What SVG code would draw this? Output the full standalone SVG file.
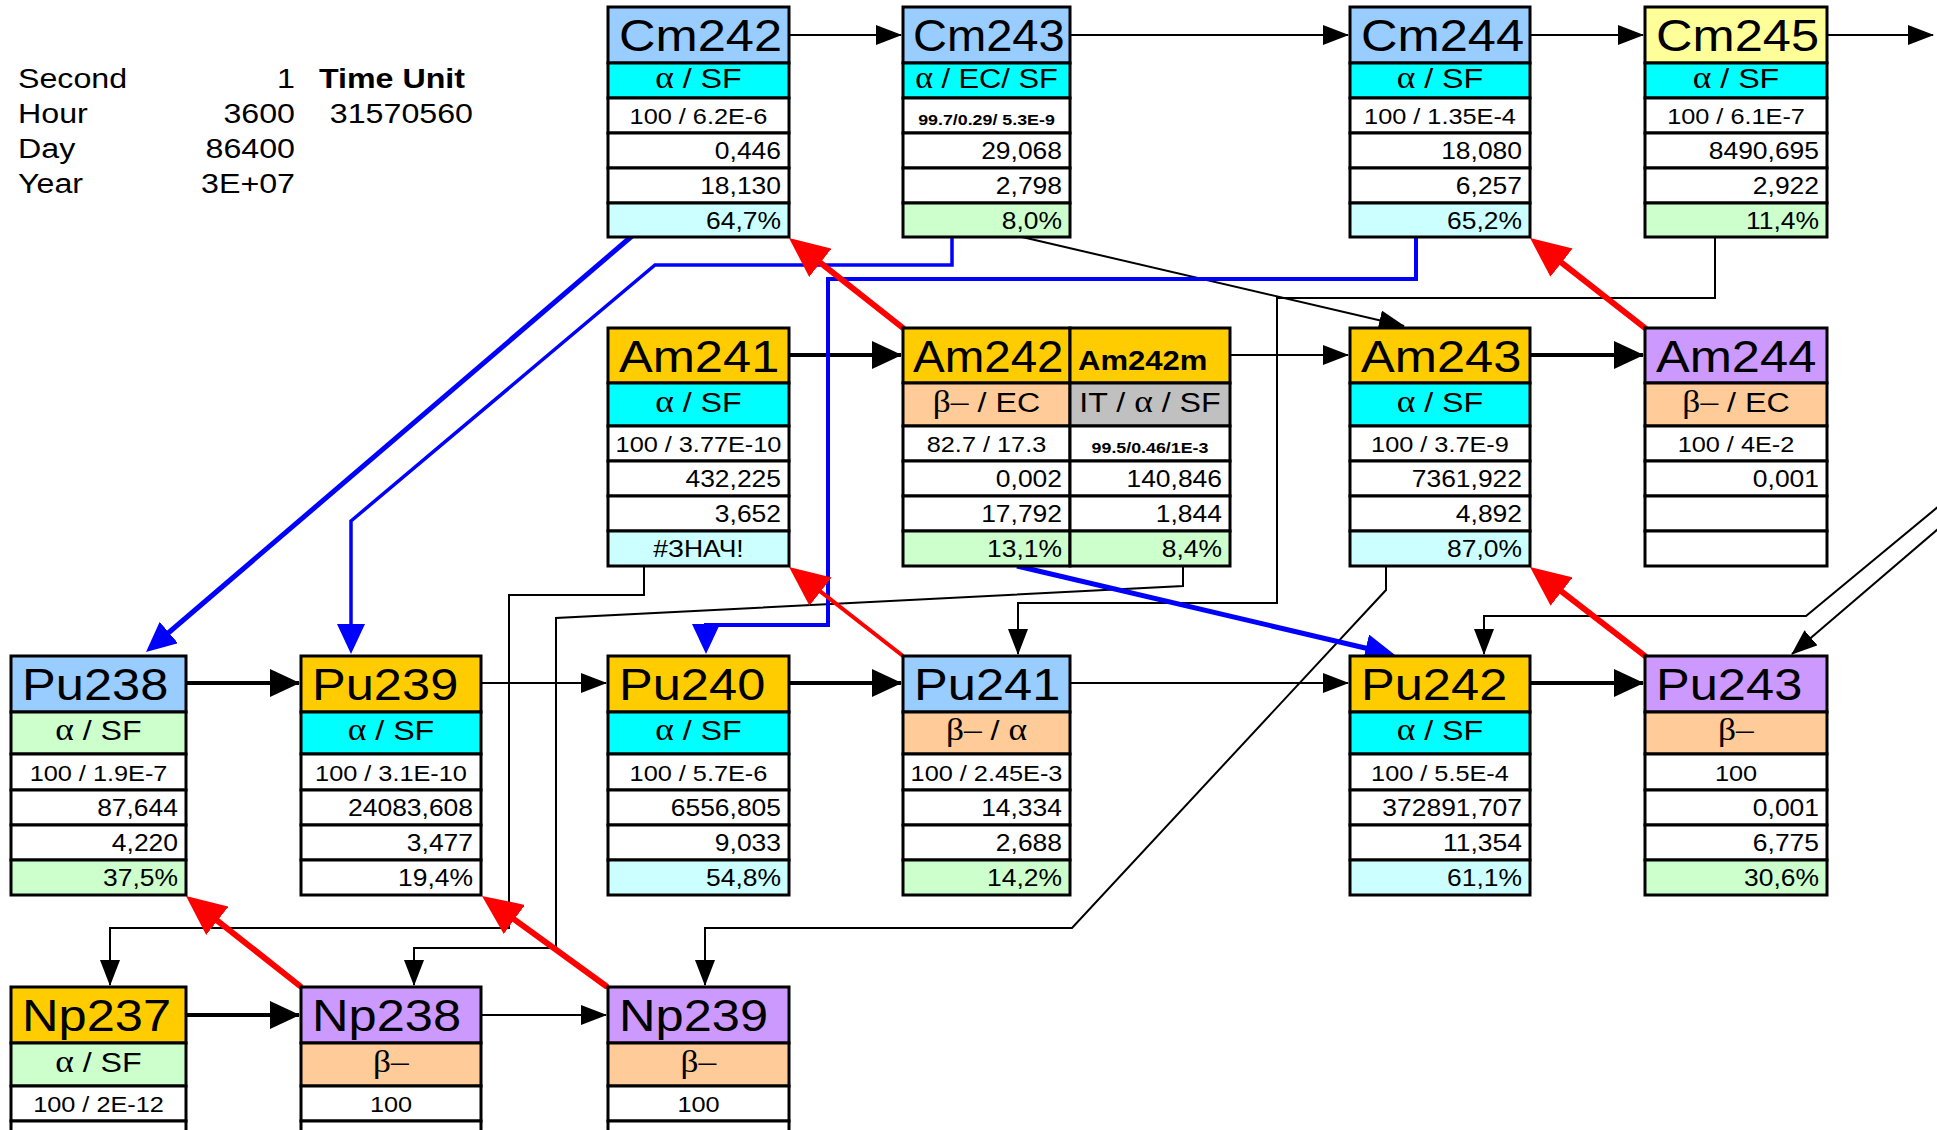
<svg xmlns="http://www.w3.org/2000/svg" width="1937" height="1130" viewBox="0 0 1937 1130">
<defs>
<style>
text{font-family:"Liberation Sans",Arial,Helvetica,sans-serif;fill:#000;transform-box:fill-box;transform:scaleX(1.15)}
.g{font-family:"Liberation Serif","Times New Roman",serif;font-size:1.1em}
.hd{font-size:44px;transform-origin:0% 50%}
.am{font-size:27px;font-weight:bold;transform-origin:0% 50%}
.dc{font-size:28px;text-anchor:middle;transform-origin:50% 50%}
.rt{font-size:22px;text-anchor:middle;transform-origin:50% 50%}
.v{font-size:23px;text-anchor:end;transform-origin:100% 50%}
.vc{font-size:23px;text-anchor:middle;transform-origin:50% 50%}
.sm{font-size:15.5px;font-weight:bold;text-anchor:middle;transform-origin:50% 50%}
.tl{font-size:28px;transform-origin:0% 50%}
.tr{font-size:28px;text-anchor:end;transform-origin:100% 50%}
.tb{font-size:28px;font-weight:bold;transform-origin:0% 50%}
rect{stroke:#000;stroke-width:3}
rect.bg{stroke:none;fill:#fff}
.bl{fill:#99CCFF}.go{fill:#FFCC00}.lv{fill:#CC99FF}.ye{fill:#FFFF99}
.cy{fill:#00FFFF}.lc{fill:#CCFFFF}.lg{fill:#CCFFCC}.pe{fill:#FFCC99}.gr{fill:#C0C0C0}.w{fill:#FFFFFF}
.k{fill:none;stroke:#000;stroke-width:2}
.kt{fill:none;stroke:#000;stroke-width:4}
.r{fill:none;stroke:#f00;stroke-width:6;stroke-linecap:round}
.r4{fill:none;stroke:#f00;stroke-width:4;stroke-linecap:round}
.b{fill:none;stroke:#00f}
</style>
<marker id="mk" markerUnits="userSpaceOnUse" markerWidth="26" markerHeight="20" refX="25" refY="10" orient="auto"><path d="M0,0L26,10L0,20z" fill="#000"/></marker>
<marker id="mkT" markerUnits="userSpaceOnUse" markerWidth="30" markerHeight="28" refX="29" refY="14" orient="auto"><path d="M0,0L30,14L0,28z" fill="#000"/></marker>
<marker id="mr" markerUnits="userSpaceOnUse" markerWidth="40" markerHeight="36" refX="28" refY="18" orient="auto"><path d="M0,0L40,18L0,36z" fill="#f00"/></marker>
<marker id="mb" markerUnits="userSpaceOnUse" markerWidth="30" markerHeight="28" refX="20" refY="14" orient="auto"><path d="M0,0L30,14L0,28z" fill="#00f"/></marker>
</defs>
<rect class="bg" x="0" y="0" width="1937" height="1130"/>

<g id="timetable">
<text class="tl" x="18" y="88">Second</text>
<text class="tl" x="18" y="123">Hour</text>
<text class="tl" x="18" y="158">Day</text>
<text class="tl" x="18" y="193">Year</text>
<text class="tr" x="295" y="88">1</text>
<text class="tr" x="295" y="123">3600</text>
<text class="tr" x="295" y="158">86400</text>
<text class="tr" x="295" y="193">3E+07</text>
<text class="tb" x="319" y="88">Time Unit</text>
<text class="tr" x="473" y="123">31570560</text>
</g>

<g id="connectors">
<path class="k" d="M789,35H901" marker-end="url(#mk)"/>
<path class="k" d="M1070,35H1348" marker-end="url(#mk)"/>
<path class="k" d="M1530,35H1643" marker-end="url(#mk)"/>
<path class="k" d="M1827,35H1933" marker-end="url(#mk)"/>
<path class="kt" d="M789,355H901" marker-end="url(#mkT)"/>
<path class="k" d="M1230,355H1348" marker-end="url(#mk)"/>
<path class="kt" d="M1530,355H1643" marker-end="url(#mkT)"/>
<path class="kt" d="M186,683H299" marker-end="url(#mkT)"/>
<path class="k" d="M481,683H606" marker-end="url(#mk)"/>
<path class="kt" d="M789,683H901" marker-end="url(#mkT)"/>
<path class="k" d="M1070,683H1348" marker-end="url(#mk)"/>
<path class="kt" d="M1530,683H1643" marker-end="url(#mkT)"/>
<path class="kt" d="M186,1015H299" marker-end="url(#mkT)"/>
<path class="k" d="M481,1015H606" marker-end="url(#mk)"/>
<path class="k" d="M1022,237L1404,326" marker-end="url(#mk)"/>
<path class="k" d="M1715,237V298H1277V603H1018V654" marker-end="url(#mk)"/>
<path class="k" d="M1183,566V586L556,618V948H414V985" marker-end="url(#mk)"/>
<path class="k" d="M644,566V595H509V928H110V985" marker-end="url(#mk)"/>
<path class="k" d="M1386,566V590L1072,928H705V985" marker-end="url(#mk)"/>
<path class="k" d="M1945,501L1806,616H1484V654" marker-end="url(#mk)"/>
<path class="k" d="M1945,523L1792,654" marker-end="url(#mk)"/>
<path class="b" stroke-width="5" d="M632,236L153.6,645.5" marker-end="url(#mb)"/>
<path class="b" stroke-width="3.5" d="M952,237V265H655L351,521V644" marker-end="url(#mb)"/>
<path class="b" stroke-width="4" d="M1416,237V279H828V625H706V644" marker-end="url(#mb)"/>
<path class="b" stroke-width="5" d="M1017,566L1385.3,652.7" marker-end="url(#mb)"/>
<path class="r" d="M903,328L798.4,245.4" marker-end="url(#mr)"/>
<path class="r" d="M1645,328L1539.5,245.4" marker-end="url(#mr)"/>
<path class="r4" d="M903,656L798.5,574.4" marker-end="url(#mr)"/>
<path class="r" d="M1645,656L1539.5,574.4" marker-end="url(#mr)"/>
<path class="r" d="M300,986L195.4,903.4" marker-end="url(#mr)"/>
<path class="r" d="M606,986L491.7,903" marker-end="url(#mr)"/>
</g>

<g id="Cm242">
<rect class="bl" x="608" y="7" width="181" height="56"/>
<rect class="cy" x="608" y="63" width="181" height="35"/>
<rect class="w" x="608" y="98" width="181" height="35"/>
<rect class="w" x="608" y="133" width="181" height="35"/>
<rect class="w" x="608" y="168" width="181" height="35"/>
<rect class="lc" x="608" y="203" width="181" height="34"/>
<text class="hd" x="619" y="51.5">Cm242</text>
<text class="dc" x="698.5" y="88"><tspan class="g">α</tspan> / SF</text>
<text class="rt" x="698.5" y="124">100 / 6.2E-6</text>
<text class="v" x="781" y="159">0,446</text>
<text class="v" x="781" y="194">18,130</text>
<text class="v" x="781" y="229">64,7%</text>
</g>

<g id="Cm243">
<rect class="bl" x="903" y="7" width="167" height="56"/>
<rect class="cy" x="903" y="63" width="167" height="35"/>
<rect class="w" x="903" y="98" width="167" height="35"/>
<rect class="w" x="903" y="133" width="167" height="35"/>
<rect class="w" x="903" y="168" width="167" height="35"/>
<rect class="lg" x="903" y="203" width="167" height="34"/>
<text class="hd" x="913" y="51.5" style="transform:scaleX(1.07)">Cm243</text>
<text class="dc" x="986.5" y="88" style="transform:scaleX(1.1)"><tspan class="g">α</tspan> / EC/ SF</text>
<text class="sm" x="986.5" y="125">99.7/0.29/ 5.3E-9</text>
<text class="v" x="1062" y="159">29,068</text>
<text class="v" x="1062" y="194">2,798</text>
<text class="v" x="1062" y="229">8,0%</text>
</g>

<g id="Cm244">
<rect class="bl" x="1350" y="7" width="180" height="56"/>
<rect class="cy" x="1350" y="63" width="180" height="35"/>
<rect class="w" x="1350" y="98" width="180" height="35"/>
<rect class="w" x="1350" y="133" width="180" height="35"/>
<rect class="w" x="1350" y="168" width="180" height="35"/>
<rect class="lc" x="1350" y="203" width="180" height="34"/>
<text class="hd" x="1361" y="51.5">Cm244</text>
<text class="dc" x="1440" y="88"><tspan class="g">α</tspan> / SF</text>
<text class="rt" x="1440" y="124">100 / 1.35E-4</text>
<text class="v" x="1522" y="159">18,080</text>
<text class="v" x="1522" y="194">6,257</text>
<text class="v" x="1522" y="229">65,2%</text>
</g>

<g id="Cm245">
<rect class="ye" x="1645" y="7" width="182" height="56"/>
<rect class="cy" x="1645" y="63" width="182" height="35"/>
<rect class="w" x="1645" y="98" width="182" height="35"/>
<rect class="w" x="1645" y="133" width="182" height="35"/>
<rect class="w" x="1645" y="168" width="182" height="35"/>
<rect class="lg" x="1645" y="203" width="182" height="34"/>
<text class="hd" x="1656" y="51.5">Cm245</text>
<text class="dc" x="1736" y="88"><tspan class="g">α</tspan> / SF</text>
<text class="rt" x="1736" y="124">100 / 6.1E-7</text>
<text class="v" x="1819" y="159">8490,695</text>
<text class="v" x="1819" y="194">2,922</text>
<text class="v" x="1819" y="229">11,4%</text>
</g>

<g id="Am241">
<rect class="go" x="608" y="328" width="181" height="55"/>
<rect class="cy" x="608" y="383" width="181" height="43"/>
<rect class="w" x="608" y="426" width="181" height="35"/>
<rect class="w" x="608" y="461" width="181" height="35"/>
<rect class="w" x="608" y="496" width="181" height="35"/>
<rect class="lc" x="608" y="531" width="181" height="35"/>
<text class="hd" x="619" y="372">Am241</text>
<text class="dc" x="698.5" y="412"><tspan class="g">α</tspan> / SF</text>
<text class="rt" x="698.5" y="452">100 / 3.77E-10</text>
<text class="v" x="781" y="487">432,225</text>
<text class="v" x="781" y="522">3,652</text>
<text class="vc" x="698.5" y="557">#ЗНАЧ!</text>
</g>

<g id="Am242">
<rect class="go" x="903" y="328" width="167" height="55"/>
<rect class="pe" x="903" y="383" width="167" height="43"/>
<rect class="w" x="903" y="426" width="167" height="35"/>
<rect class="w" x="903" y="461" width="167" height="35"/>
<rect class="w" x="903" y="496" width="167" height="35"/>
<rect class="lg" x="903" y="531" width="167" height="35"/>
<text class="hd" x="913" y="372" style="transform:scaleX(1.08)">Am242</text>
<text class="dc" x="986.5" y="412"><tspan class="g">β–</tspan> / EC</text>
<text class="rt" x="986.5" y="452">82.7 / 17.3</text>
<text class="v" x="1062" y="487">0,002</text>
<text class="v" x="1062" y="522">17,792</text>
<text class="v" x="1062" y="557">13,1%</text>
</g>

<g id="Am242m">
<rect class="go" x="1070" y="328" width="160" height="55"/>
<rect class="gr" x="1070" y="383" width="160" height="43"/>
<rect class="w" x="1070" y="426" width="160" height="35"/>
<rect class="w" x="1070" y="461" width="160" height="35"/>
<rect class="w" x="1070" y="496" width="160" height="35"/>
<rect class="lg" x="1070" y="531" width="160" height="35"/>
<text class="am" x="1078" y="370">Am242m</text>
<text class="dc" x="1150" y="412">IT / <tspan class="g">α</tspan> / SF</text>
<text class="sm" x="1150" y="453">99.5/0.46/1E-3</text>
<text class="v" x="1222" y="487">140,846</text>
<text class="v" x="1222" y="522">1,844</text>
<text class="v" x="1222" y="557">8,4%</text>
</g>

<g id="Am243">
<rect class="go" x="1350" y="328" width="180" height="55"/>
<rect class="cy" x="1350" y="383" width="180" height="43"/>
<rect class="w" x="1350" y="426" width="180" height="35"/>
<rect class="w" x="1350" y="461" width="180" height="35"/>
<rect class="w" x="1350" y="496" width="180" height="35"/>
<rect class="lc" x="1350" y="531" width="180" height="35"/>
<text class="hd" x="1361" y="372">Am243</text>
<text class="dc" x="1440" y="412"><tspan class="g">α</tspan> / SF</text>
<text class="rt" x="1440" y="452">100 / 3.7E-9</text>
<text class="v" x="1522" y="487">7361,922</text>
<text class="v" x="1522" y="522">4,892</text>
<text class="v" x="1522" y="557">87,0%</text>
</g>

<g id="Am244">
<rect class="lv" x="1645" y="328" width="182" height="55"/>
<rect class="pe" x="1645" y="383" width="182" height="43"/>
<rect class="w" x="1645" y="426" width="182" height="35"/>
<rect class="w" x="1645" y="461" width="182" height="35"/>
<rect class="w" x="1645" y="496" width="182" height="35"/>
<rect class="w" x="1645" y="531" width="182" height="35"/>
<text class="hd" x="1656" y="372">Am244</text>
<text class="dc" x="1736" y="412"><tspan class="g">β–</tspan> / EC</text>
<text class="rt" x="1736" y="452">100 / 4E-2</text>
<text class="v" x="1819" y="487">0,001</text>
</g>

<g id="Pu238">
<rect class="bl" x="11" y="656" width="175" height="56"/>
<rect class="lg" x="11" y="712" width="175" height="42"/>
<rect class="w" x="11" y="754" width="175" height="36"/>
<rect class="w" x="11" y="790" width="175" height="35"/>
<rect class="w" x="11" y="825" width="175" height="35"/>
<rect class="lg" x="11" y="860" width="175" height="35"/>
<text class="hd" x="22" y="700">Pu238</text>
<text class="dc" x="98.5" y="740.5"><tspan class="g">α</tspan> / SF</text>
<text class="rt" x="98.5" y="781">100 / 1.9E-7</text>
<text class="v" x="178" y="816.5">87,644</text>
<text class="v" x="178" y="851.5">4,220</text>
<text class="v" x="178" y="886.5">37,5%</text>
</g>

<g id="Pu239">
<rect class="go" x="301" y="656" width="180" height="56"/>
<rect class="cy" x="301" y="712" width="180" height="42"/>
<rect class="w" x="301" y="754" width="180" height="36"/>
<rect class="w" x="301" y="790" width="180" height="35"/>
<rect class="w" x="301" y="825" width="180" height="35"/>
<rect class="w" x="301" y="860" width="180" height="35"/>
<text class="hd" x="312" y="700">Pu239</text>
<text class="dc" x="391" y="740.5"><tspan class="g">α</tspan> / SF</text>
<text class="rt" x="391" y="781">100 / 3.1E-10</text>
<text class="v" x="473" y="816.5">24083,608</text>
<text class="v" x="473" y="851.5">3,477</text>
<text class="v" x="473" y="886.5">19,4%</text>
</g>

<g id="Pu240">
<rect class="go" x="608" y="656" width="181" height="56"/>
<rect class="cy" x="608" y="712" width="181" height="42"/>
<rect class="w" x="608" y="754" width="181" height="36"/>
<rect class="w" x="608" y="790" width="181" height="35"/>
<rect class="w" x="608" y="825" width="181" height="35"/>
<rect class="lc" x="608" y="860" width="181" height="35"/>
<text class="hd" x="619" y="700">Pu240</text>
<text class="dc" x="698.5" y="740.5"><tspan class="g">α</tspan> / SF</text>
<text class="rt" x="698.5" y="781">100 / 5.7E-6</text>
<text class="v" x="781" y="816.5">6556,805</text>
<text class="v" x="781" y="851.5">9,033</text>
<text class="v" x="781" y="886.5">54,8%</text>
</g>

<g id="Pu241">
<rect class="bl" x="903" y="656" width="167" height="56"/>
<rect class="pe" x="903" y="712" width="167" height="42"/>
<rect class="w" x="903" y="754" width="167" height="36"/>
<rect class="w" x="903" y="790" width="167" height="35"/>
<rect class="w" x="903" y="825" width="167" height="35"/>
<rect class="lg" x="903" y="860" width="167" height="35"/>
<text class="hd" x="914" y="700">Pu241</text>
<text class="dc" x="986.5" y="740.5"><tspan class="g">β–</tspan> / <tspan class="g">α</tspan></text>
<text class="rt" x="986.5" y="781">100 / 2.45E-3</text>
<text class="v" x="1062" y="816.5">14,334</text>
<text class="v" x="1062" y="851.5">2,688</text>
<text class="v" x="1062" y="886.5">14,2%</text>
</g>

<g id="Pu242">
<rect class="go" x="1350" y="656" width="180" height="56"/>
<rect class="cy" x="1350" y="712" width="180" height="42"/>
<rect class="w" x="1350" y="754" width="180" height="36"/>
<rect class="w" x="1350" y="790" width="180" height="35"/>
<rect class="w" x="1350" y="825" width="180" height="35"/>
<rect class="lc" x="1350" y="860" width="180" height="35"/>
<text class="hd" x="1361" y="700">Pu242</text>
<text class="dc" x="1440" y="740.5"><tspan class="g">α</tspan> / SF</text>
<text class="rt" x="1440" y="781">100 / 5.5E-4</text>
<text class="v" x="1522" y="816.5">372891,707</text>
<text class="v" x="1522" y="851.5">11,354</text>
<text class="v" x="1522" y="886.5">61,1%</text>
</g>

<g id="Pu243">
<rect class="lv" x="1645" y="656" width="182" height="56"/>
<rect class="pe" x="1645" y="712" width="182" height="42"/>
<rect class="w" x="1645" y="754" width="182" height="36"/>
<rect class="w" x="1645" y="790" width="182" height="35"/>
<rect class="w" x="1645" y="825" width="182" height="35"/>
<rect class="lg" x="1645" y="860" width="182" height="35"/>
<text class="hd" x="1656" y="700">Pu243</text>
<text class="dc" x="1736" y="740.5"><tspan class="g">β–</tspan></text>
<text class="rt" x="1736" y="781">100</text>
<text class="v" x="1819" y="816.5">0,001</text>
<text class="v" x="1819" y="851.5">6,775</text>
<text class="v" x="1819" y="886.5">30,6%</text>
</g>

<g id="Np237">
<rect class="go" x="11" y="987" width="175" height="56"/>
<rect class="lg" x="11" y="1043" width="175" height="43"/>
<rect class="w" x="11" y="1086" width="175" height="35"/>
<rect class="w" x="11" y="1121" width="175" height="40"/>
<text class="hd" x="22" y="1031">Np237</text>
<text class="dc" x="98.5" y="1072"><tspan class="g">α</tspan> / SF</text>
<text class="rt" x="98.5" y="1112">100 / 2E-12</text>
</g>

<g id="Np238">
<rect class="lv" x="301" y="987" width="180" height="56"/>
<rect class="pe" x="301" y="1043" width="180" height="43"/>
<rect class="w" x="301" y="1086" width="180" height="35"/>
<rect class="w" x="301" y="1121" width="180" height="40"/>
<text class="hd" x="312" y="1031">Np238</text>
<text class="dc" x="391" y="1072"><tspan class="g">β–</tspan></text>
<text class="rt" x="391" y="1112">100</text>
</g>

<g id="Np239">
<rect class="lv" x="608" y="987" width="181" height="56"/>
<rect class="pe" x="608" y="1043" width="181" height="43"/>
<rect class="w" x="608" y="1086" width="181" height="35"/>
<rect class="w" x="608" y="1121" width="181" height="40"/>
<text class="hd" x="619" y="1031">Np239</text>
<text class="dc" x="698.5" y="1072"><tspan class="g">β–</tspan></text>
<text class="rt" x="698.5" y="1112">100</text>
</g>
</svg>
